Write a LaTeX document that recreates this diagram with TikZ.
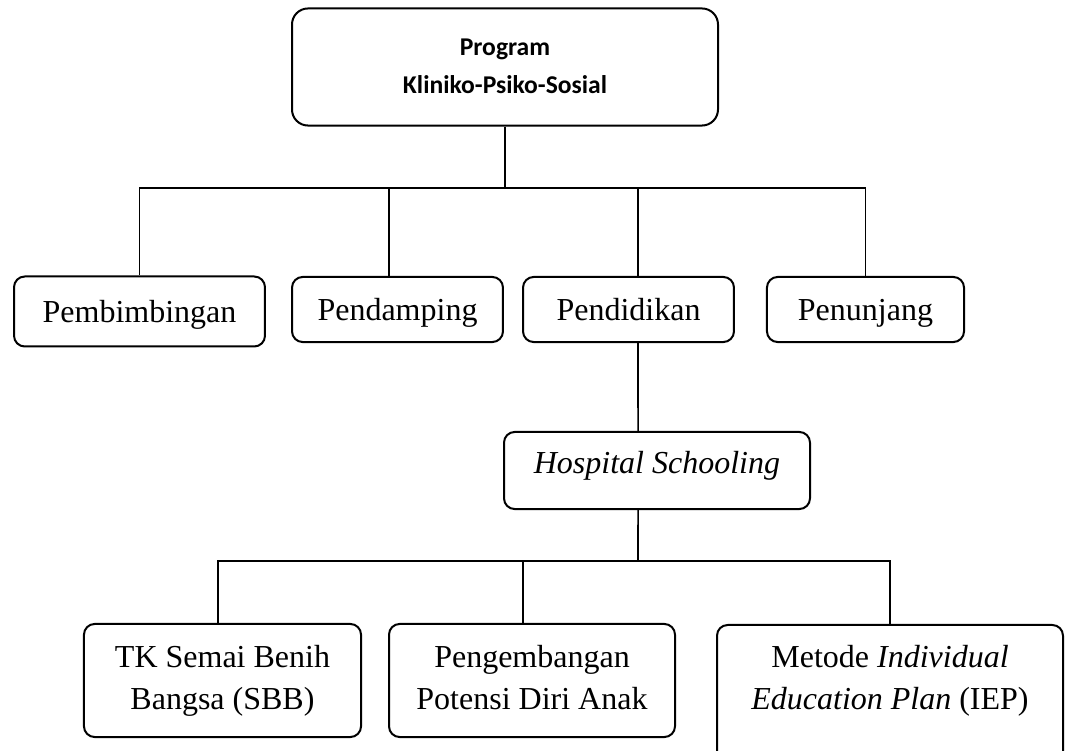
\documentclass[tikz,border=0pt]{standalone}
\usepackage{fontspec}
\setmainfont{Liberation Serif}
\newfontfamily\calibri{Carlito}
\usetikzlibrary{positioning}

\tikzset{
  orgbox/.style={draw, line width=0.75pt, rounded corners=4pt, align=center, inner sep=0pt,
    font=\fontsize{12}{15.75}\selectfont},
  onebox/.style={orgbox, text height=11pt, text depth=3pt},
  topbox/.style={orgbox, rounded corners=6pt, font=\calibri\bfseries\fontsize{9.6}{14.25}\selectfont},
  link/.style={line width=0.6pt},
}

\begin{document}
\begin{tikzpicture}[x=0.375pt,y=-0.375pt]
  \useasboundingbox (0,0) rectangle (1066,751);

  % top
  \node[topbox, minimum width=159.75pt, minimum height=43.9pt] (prog) at (505,67) {Program\strut\\Kliniko-Psiko-Sosial\strut};

  % second level
  \node[onebox, minimum width=94.1pt, minimum height=26.25pt] (pemb) at (139.5,311.5) {Pembimbingan};
  \node[onebox, minimum width=79.1pt, minimum height=24.4pt] (pend) at (397.5,309.5) {Pendamping};
  \node[onebox, minimum width=79.1pt, minimum height=24.4pt] (pdk) at (628.5,309.5) {Pendidikan};
  \node[onebox, minimum width=73.9pt, minimum height=24.4pt] (penu) at (865.5,309.5) {Penunjang};

  \node[orgbox, minimum width=114.75pt, minimum height=28.9pt, text height=6.6pt, text depth=4.7pt] (hs) at (657,470.5) {\textit{Hospital Schooling}};

  % third level
  \node[orgbox, minimum width=103.9pt, minimum height=42.4pt] (tk) at (222.5,680.5) {TK Semai Benih\strut\\Bangsa (SBB)\strut};
  \node[orgbox, minimum width=107.25pt, minimum height=42.4pt] (peng) at (532,680.5) {Pengembangan\strut\\Potensi Diri Anak\strut};
  \node[orgbox, minimum width=129.75pt, minimum height=58.5pt, anchor=north] (iep) at (890,624) {};
  \node[align=center, inner sep=0pt, font=\fontsize{12}{15.75}\selectfont] (ieptext) at (890,680.5)
    {Metode \textit{Individual}\strut\\\textit{Education Plan} (IEP)\strut};

  % connectors
  \coordinate (busa) at (505,188);
  \coordinate (busb) at (638,561);
  \draw[link] (prog.south) -- (prog.south |- busa);
  \draw[link] (pemb.north) |- (busa) -| (penu.north);
  \draw[link] ([xshift=-3.2pt]pend.north) |- (busa);
  \draw[link] ([xshift=3.56pt]pdk.north) |- (busa);
  \draw[link] ([xshift=3.56pt]pdk.south) -- ([xshift=-7.1pt]hs.north);
  \draw[link] ([xshift=-7.1pt]hs.south) -- (busb);
  \draw[link] ([xshift=-1.7pt]tk.north) |- (busb) -| (iep.north);
  \draw[link] ([xshift=-3.4pt]peng.north) |- (busb);
\end{tikzpicture}
\end{document}
